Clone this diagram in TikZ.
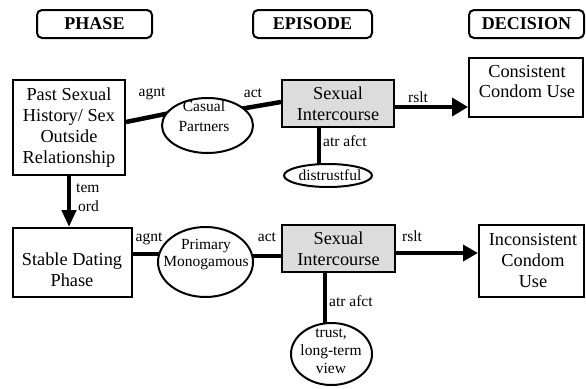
\documentclass[tikz,border=0pt]{standalone}
\usepackage{fontspec}
\setmainfont{Liberation Serif}
\usetikzlibrary{arrows.meta,shapes.geometric,backgrounds}
\definecolor{sibg}{RGB}{220,220,220}
\begin{document}
\begin{tikzpicture}[x=1pt,y=-1pt,
  hdr/.style={draw, line width=2pt, rounded corners=5pt, fill=white,
    font=\bfseries\fontsize{18}{21}\selectfont, minimum width=115, minimum height=28, inner sep=0pt},
  box/.style={draw, line width=2pt, fill=white, inner sep=0pt, align=center,
    font=\fontsize{18.3}{21}\selectfont},
  gbox/.style={box, fill=sibg},
  ell/.style={draw, ellipse, line width=2pt, fill=white, inner sep=0pt},
  big/.style={inner sep=0pt, align=center, font=\fontsize{18.3}{21}\selectfont},
  small/.style={inner sep=0pt, align=center, font=\fontsize{15.5}{18}\selectfont},
  lbl/.style={inner sep=0pt, anchor=base, font=\fontsize{15.5}{18}\selectfont},
  conn/.style={line width=4.5pt},
  tipA/.style={-{Triangle[length=16pt,width=18pt]}},
  tipB/.style={-{Triangle[length=17pt,width=14pt]}},
  tipC/.style={-{Triangle[length=15pt,width=16pt]}}]
\useasboundingbox (0,0) rectangle (586,388);

% headers
\node[hdr] (hphase) at (94.5,24) {PHASE};
\node[hdr, minimum width=119] (hepi) at (312.5,24) {EPISODE};
\node[hdr] (hdec) at (526.5,24) {DECISION};

% boxes
\node[box, minimum width=112, minimum height=95] (past) at (69,127.5)
  {Past Sexual\\History/ Sex\\Outside\\Relationship};
\node[box, minimum width=119, minimum height=69] (stable) at (72.5,262.5) {};
\node[big] (stableT) at (72,270) {Stable Dating\\Phase};
\node[gbox, minimum width=112, minimum height=47] (si1) at (338,103.5) {Sexual\\Intercourse};
\node[gbox, minimum width=113, minimum height=47] (si2) at (338.5,248.5) {Sexual\\Intercourse};
\node[box, minimum width=114, minimum height=59] (ccu) at (526,87.5) {};
\node[big] (ccuT) at (527,81.5) {Consistent\\[-1pt]Condom Use};
\node[box, minimum width=105, minimum height=72] (icu) at (531.5,261) {};
\node[big] (icuT) at (533,260.5) {Inconsistent\\Condom\\Use};

% ellipses
\node[ell, minimum width=91, minimum height=55] (cp) at (207.5,125.5) {};
\node[small] (cpT) at (204,116.5) {Casual\\[2pt]Partners};
\node[ell, minimum width=95, minimum height=70] (pm) at (205.5,262) {};
\node[small] (pmT) at (206,255) {Primary\\[-1pt]Monogamous};
\node[ell, minimum width=88, minimum height=23] (dis) at (328,175.5) {};
\node[small] (disT) at (330,175.5) {distrustful};
\node[ell, minimum width=81, minimum height=62] (tr) at (331.5,354) {};
\node[small] (trT) at (331,351.5) {trust,\\long-term\\view};

% connectors
\begin{scope}[on background layer]
\draw[conn, shorten >=-4pt] ([yshift=5.5]past.east) -- (cp.165);
\draw[conn, shorten <=-4pt] (cp.25) -- ([yshift=1.5]si1.west);
\draw[conn, tipA] ([yshift=-3.5]si1.east) -- ([yshift=-3.5]si1.east -| ccu.west);
\draw[conn] ([xshift=-19]si1.south) -- ([xshift=-19]si1.south |- dis.center);
\draw[conn, tipB] (past.south) -- (past.south |- stable.north);
\draw[conn] ([yshift=8.5]stable.east) -- ([yshift=8.5]stable.east -| pm.center);
\draw[conn] ([yshift=-7.5]si2.west) -- ([yshift=-7.5]si2.west -| pm.center);
\draw[conn, tipC] ([yshift=-4.5]si2.east) -- ([yshift=-4.5]si2.east -| icu.west);
\draw[conn] ([xshift=-13.5]si2.south) -- ([xshift=-13.5]si2.south |- tr.center);
\end{scope}

% labels
\node[lbl] (l1) at (152,96.5) {agnt};
\node[lbl] (l2) at (253,97.5) {act};
\node[lbl] (l3) at (418,102.5) {rslt};
\node[lbl, anchor=base west] (l4) at (323,146.5) {atr afct};
\node[lbl, anchor=base west] (l5) at (76,192.5) {tem};
\node[lbl, anchor=base west] (l6) at (78,211.5) {ord};
\node[lbl] (l7) at (149,241.5) {agnt};
\node[lbl] (l8) at (267,241.5) {act};
\node[lbl] (l9) at (412,241.5) {rslt};
\node[lbl, anchor=base west] (l10) at (329,306.5) {atr afct};
\end{tikzpicture}
\end{document}
